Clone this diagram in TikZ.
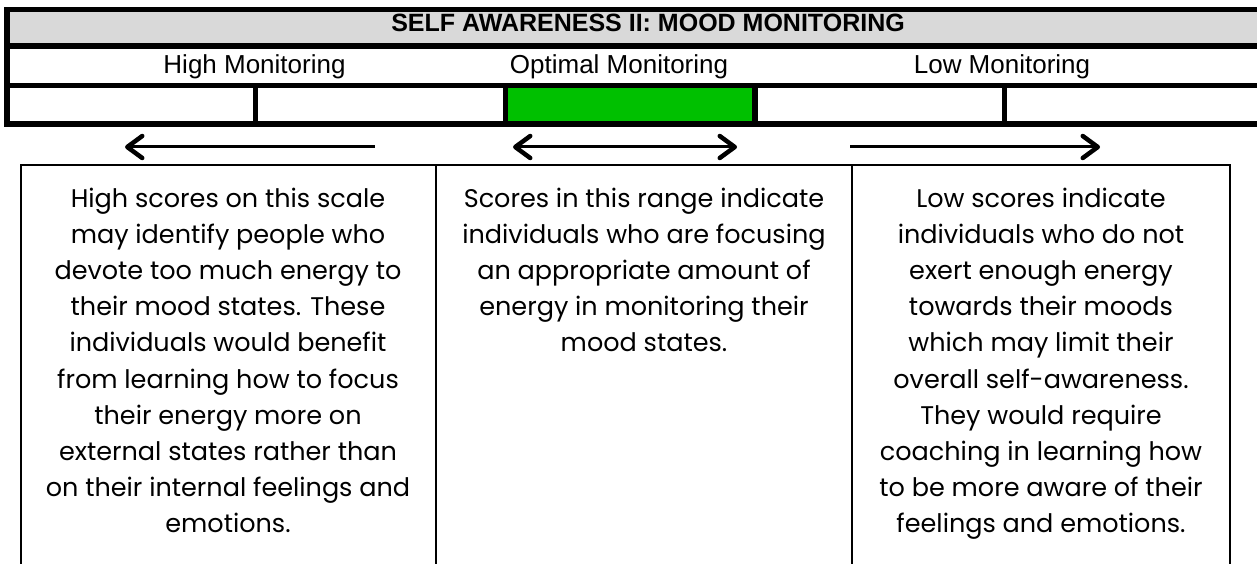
\documentclass[tikz,border=0pt]{standalone}
\usepackage{fontspec}
\setmainfont{Liberation Sans}
\newfontfamily\bodyfont{Poppins}
\usetikzlibrary{arrows.meta}

\definecolor{headgray}{HTML}{D9D9D9}
\definecolor{okgreen}{HTML}{00C000}

\tikzset{
  tbl/.style={line width=5.5pt},
  boxline/.style={line width=2pt},
  band/.style={font=\fontsize{26}{30}\selectfont, inner sep=0pt, anchor=base},
  blurb/.style={font=\bodyfont\fontsize{25.5}{36.2}\selectfont, align=center, inner sep=0pt, anchor=north},
  scalearrow/.style={line width=3pt},
}

\begin{document}
\begin{tikzpicture}[x=1pt,y=-1pt,
  >={Straight Barb[length=15pt,width=22pt,line width=4.5pt,round]}]
\clip (0,0) rectangle (1257,564);
\fill[white] (0,0) rectangle (1257,564);

% scale table
\fill[headgray] (7,9.5) rectangle (1262,46);
\fill[okgreen] (505.5,85.5) rectangle (755,124);
\draw[tbl] (7,9.5) rectangle (1262,124);
\draw[tbl] (7,46) -- (1262,46);
\draw[tbl] (7,85.5) -- (1262,85.5);
\foreach \x in {255.5,505.5,755,1004.5}
  \draw[tbl] (\x,85.5) -- (\x,124);

\node[anchor=base, inner sep=0pt, font=\bfseries\fontsize{25}{30}\selectfont] (title) at (648,32) {SELF AWARENESS II: MOOD MONITORING};
\node[band] (high) at (254.5,74) {High Monitoring};
\node[band] (optimal) at (619,74) {Optimal Monitoring};
\node[band] (low) at (1002,74) {Low Monitoring};

% arrows
\coordinate (hiTip) at (125,147);
\coordinate (hiEnd) at (375,147);
\coordinate (opL) at (513,147);
\coordinate (opR) at (737,147);
\coordinate (loEnd) at (850,147);
\coordinate (loTip) at (1100,147);
\draw[scalearrow,<-] (hiTip) -- (hiEnd);
\draw[scalearrow,<->] (opL) -- (opR);
\draw[scalearrow,->] (loEnd) -- (loTip);

% description boxes
\draw[boxline] (21,570) |- (1230,165) -- (1230,570);
\draw[boxline] (436,165) -- (436,570);
\draw[boxline] (852,165) -- (852,570);

\node[blurb] (highText) at (228,187.5) {High scores on this scale\\may identify people who\\devote too much energy to\\their mood states. These\\individuals would benefit\\from learning how to focus\\their energy more on\\external states rather than\\on their internal feelings and\\emotions.};
\node[blurb] (optText) at (644,187.5) {Scores in this range indicate\\individuals who are focusing\\an appropriate amount of\\energy in monitoring their\\mood states.};
\node[blurb] (lowText) at (1041,187.5) {Low scores indicate\\individuals who do not\\exert enough energy\\towards their moods\\which may limit their\\overall self-awareness.\\They would require\\coaching in learning how\\to be more aware of their\\feelings and emotions.};
\end{tikzpicture}
\end{document}
